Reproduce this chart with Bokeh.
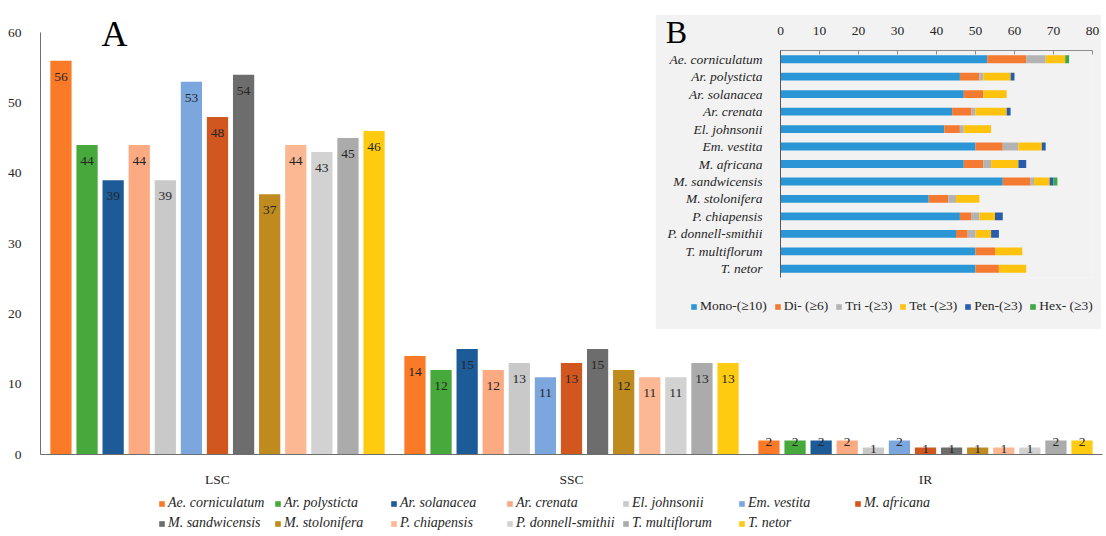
from bokeh.plotting import figure
from bokeh.models import (FactorRange, Range1d, ColumnDataSource, Legend, LegendItem, Label)
from bokeh.transform import dodge
from bokeh.core.properties import value
from bokeh.embed import file_html
from bokeh.resources import INLINE

# ---------------- data: panel A ----------------
groups = ["LSC", "SSC", "IR"]
species = ["Ae. corniculatum", "Ar. polysticta", "Ar. solanacea", "Ar. crenata",
           "El. johnsonii", "Em. vestita", "M. africana", "M. sandwicensis",
           "M. stolonifera", "P. chiapensis", "P. donnell-smithii",
           "T. multiflorum", "T. netor"]
lsc = [56, 44, 39, 44, 39, 53, 48, 54, 37, 44, 43, 45, 46]
ssc = [14, 12, 15, 12, 13, 11, 13, 15, 12, 11, 11, 13, 13]
ir = [2, 2, 2, 2, 1, 2, 1, 1, 1, 1, 1, 2, 2]
y_ticks = [0, 10, 20, 30, 40, 50, 60]

# ---------------- data: panel B ----------------
motif_labels = ["Mono-(\u226510)", "Di- (\u22656)", "Tri -(\u22653)", "Tet -(\u22653)",
                "Pen-(\u22653)", "Hex- (\u22653)"]
mono = [53, 46, 47, 44, 42, 50, 47, 57, 38, 46, 45, 50, 50]
di = [10, 5, 5, 5, 4, 7, 5, 7, 5, 3, 3, 5, 6]
tri = [5, 1, 0, 1, 1, 4, 2, 1, 2, 2, 2, 0, 0]
tet = [5, 7, 6, 8, 7, 6, 7, 4, 6, 4, 4, 7, 7]
pen = [0, 1, 0, 1, 0, 1, 2, 1, 0, 2, 2, 0, 0]
hexa = [1, 0, 0, 0, 0, 0, 0, 1, 0, 0, 0, 0, 0]
x_ticks_b = [0, 10, 20, 30, 40, 50, 60, 70, 80]

# ---------------- styles ----------------
sp_colors = ["#FA7A28", "#47A83C", "#1C5B98", "#FBAA82", "#C9C9C9", "#7CA7DE",
             "#D2571F", "#6D6D6D", "#BF8A1E", "#FCB793", "#D2D2D2", "#ABABAB", "#FFCB10"]
motif_colors = ["#2A96D5", "#F47A31", "#B3B3B3", "#FFC20E", "#2A5CAC", "#3DA845"]
SERIF = "Liberation Serif"
TXT = "#262626"

# ================= panel A (main chart) =================
p = figure(width=1106, height=536, x_range=FactorRange(*groups, range_padding=0),
           y_range=Range1d(0, 60), output_backend="svg", toolbar_location=None,
           min_border_left=40, min_border_right=4, min_border_top=32, min_border_bottom=82)
p.xgrid.visible = False
p.ygrid.visible = False
p.outline_line_color = None

pitch = 0.0737
bar_w = 0.06
for i, name in enumerate(species):
    vals = [lsc[i], ssc[i], ir[i]]
    src = ColumnDataSource(dict(group=groups, count=vals, label=[str(v) for v in vals],
                                dy=[16 if g != "IR" else 2 for g in groups]))
    off = (i - (len(species) - 1) / 2) * pitch
    p.vbar(x=dodge("group", off, range=p.x_range), top="count", width=bar_w,
           source=src, fill_color=sp_colors[i], line_color=None)
    p.text(x=dodge("group", off, range=p.x_range), y="count", text="label", y_offset="dy",
           source=src, text_align="center", text_baseline="middle",
           text_font=value(SERIF), text_font_size="13.5px", text_color=TXT)

for ax in (p.xaxis[0], p.yaxis[0]):
    ax.axis_line_color = "#6E6E6E"
    ax.major_tick_line_color = None
    ax.minor_tick_line_color = None
    ax.major_label_text_font = SERIF
    ax.major_label_text_font_size = "13.5px"
    ax.major_label_text_color = TXT
p.yaxis.ticker = y_ticks
p.yaxis.major_label_standoff = 13
p.xaxis.major_label_standoff = 11

# ================= panel B (inset) =================
srcB = ColumnDataSource(dict(species=species, mono=mono, di=di, tri=tri, tet=tet,
                             pen=pen, hexa=hexa))
q = figure(width=446, height=315, y_range=FactorRange(*species[::-1]),
           x_range=Range1d(0, 80), x_axis_location="above",
           output_backend="svg", toolbar_location=None,
           min_border_left=125, min_border_right=9, min_border_top=36, min_border_bottom=52)
q.background_fill_color = "#F2F2F2"
q.border_fill_color = "#F2F2F2"
q.outline_line_color = None
q.xgrid.visible = False
q.ygrid.visible = False
q.hbar_stack(["mono", "di", "tri", "tet", "pen", "hexa"], y="species", height=0.45,
             color=motif_colors, line_color=None, source=srcB)

q.xaxis.ticker = x_ticks_b
q.xaxis.major_tick_in = 4
q.xaxis.major_tick_out = 0
q.xaxis.major_tick_line_color = "#8C8C8C"
q.xaxis.axis_line_color = "#8C8C8C"
q.xaxis.minor_tick_line_color = None
q.xaxis.major_label_standoff = 16
q.yaxis.axis_line_color = "#595959"
q.yaxis.major_tick_line_color = None
q.yaxis.major_label_standoff = 12
q.yaxis.major_label_text_font_style = "italic"
for ax in (q.xaxis[0], q.yaxis[0]):
    ax.major_label_text_font = SERIF
    ax.major_label_text_font_size = "13.5px"
    ax.major_label_text_color = TXT
q.styles = {"position": "absolute", "left": "655px", "top": "14px"}

# ================= overlay: panel letters and legends =================
r = figure(width=1106, height=536, x_range=Range1d(0, 1), y_range=Range1d(0, 1),
           x_axis_type=None, y_axis_type=None, output_backend="svg",
           toolbar_location=None, min_border=0, min_border_left=0, min_border_right=0,
           min_border_top=0, min_border_bottom=0)
r.background_fill_alpha = 0
r.border_fill_alpha = 0
r.outline_line_color = None
r.styles = {"position": "absolute", "left": "0px", "top": "0px"}

# legend proxies: one glyph each, placed outside the visible range (clipped away)
itemsA = []
for name, c in zip(species, sp_colors):
    gr = r.vbar(x=[-5], top=[-5], width=0.1, fill_color=c, line_color=None)
    itemsA.append(LegendItem(label=name, renderers=[gr]))
legA = Legend(items=itemsA, location=(158, 3), orientation="horizontal", ncols=7,
              glyph_width=7, glyph_height=7, label_standoff=3, label_width=106,
              label_height=20, spacing=0, padding=0, margin=0,
              border_line_color=None, background_fill_alpha=0,
              label_text_font=SERIF, label_text_font_style="italic",
              label_text_font_size="14px", label_text_color=TXT)
r.add_layout(legA)

itemsB = []
for lab, c in zip(motif_labels, motif_colors):
    gr = r.hbar(y=[-5], right=[-5], height=0.1, fill_color=c, line_color=None)
    itemsB.append(LegendItem(label=lab, renderers=[gr]))
legB = Legend(items=itemsB, location=(690, 222), orientation="horizontal",
              glyph_width=7, glyph_height=7, label_standoff=3, label_height=16,
              spacing=7, padding=0, margin=0, border_line_color=None,
              background_fill_alpha=0, label_text_font=SERIF,
              label_text_font_size="13.5px", label_text_color=TXT)
r.add_layout(legB)

r.add_layout(Label(x=114, y=503, x_units="screen", y_units="screen", text="A",
                   text_font=SERIF, text_font_size="36px", text_color="black",
                   text_align="center", text_baseline="middle"))
r.add_layout(Label(x=676, y=505, x_units="screen", y_units="screen", text="B",
                   text_font=SERIF, text_font_size="32px", text_color="black",
                   text_align="center", text_baseline="middle"))

open("out.html", "w").write(file_html([p, q, r], INLINE))
